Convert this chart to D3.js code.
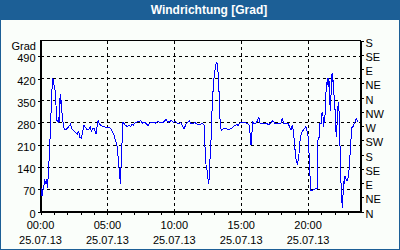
<!DOCTYPE html>
<html>
<head>
<meta charset="utf-8">
<script src="https://cdn.jsdelivr.net/npm/d3@7"></script>
<style>
  body { margin: 0; background: #fff; }
  svg { display: block; }
  text { font-family: 'Liberation Sans', Arial, sans-serif; font-size: 11px; fill: #000; }
  .title { font-weight: bold; font-size: 12px; fill: #fff; }
  .grid line { stroke: #000; stroke-dasharray: 3,3; shape-rendering: crispEdges; }
  .axis path, .axis line { stroke: #000; shape-rendering: crispEdges; }
</style>
</head>
<body>
<svg id="chart"></svg>
<script>
// Chart data
var chartTitle = 'Windrichtung [Grad]';
var yUnit = 'Grad';
var dateLabel = '25.07.13';

var times = [
    '00:02', '00:07', '00:16', '00:19', '00:25', '00:28', '00:31', '00:37', '00:40', '00:43',
    '00:46', '00:49', '00:52', '00:56', '00:59', '01:04', '01:07', '01:10', '01:14', '01:19',
    '01:22', '01:25', '01:28', '01:31', '01:34', '01:38', '01:41', '01:46', '01:52', '01:58',
    '02:04', '02:14', '02:19', '02:26', '02:37', '02:45', '02:51', '02:57', '03:03', '03:06',
    '03:15', '03:21', '03:30', '03:36', '03:43', '03:48', '03:54', '04:00', '04:09', '04:18',
    '04:24', '04:30', '04:39', '04:48', '04:57', '05:06', '05:12', '05:18', '05:24', '05:30',
    '05:36', '05:42', '05:46', '05:51', '05:54', '05:58', '06:01', '06:04', '06:07', '06:10',
    '06:15', '06:21', '06:29', '06:38', '06:44', '06:50', '06:56', '07:02', '07:11', '07:29',
    '07:38', '07:47', '08:02', '08:11', '08:23', '08:35', '08:47', '09:05', '09:23', '09:32',
    '09:47', '09:56', '10:05', '10:14', '10:23', '10:29', '10:35', '10:44', '10:53', '11:08',
    '11:14', '11:23', '11:32', '11:38', '11:47', '12:05', '12:08', '12:14', '12:17', '12:23',
    '12:27', '12:32', '12:35', '12:38', '12:44', '12:47', '12:51', '12:56', '13:00', '13:05',
    '13:09', '13:14', '13:18', '13:21', '13:24', '13:29', '13:33', '13:40', '13:48', '13:55',
    '14:03', '14:11', '14:18', '14:25', '14:33', '14:40', '14:46', '14:52', '15:03', '15:13',
    '15:25', '15:37', '15:44', '15:52', '15:59', '16:07', '16:13', '16:19', '16:25', '16:34',
    '16:43', '16:52', '17:01', '17:10', '17:22', '17:31', '17:40', '17:49', '17:58', '18:04',
    '18:10', '18:19', '18:31', '18:37', '18:43', '18:49', '18:55', '18:59', '19:04', '19:08',
    '19:13', '19:19', '19:25', '19:31', '19:37', '19:43', '19:50', '19:59', '20:04', '20:07',
    '20:13', '20:19', '20:25', '20:34', '20:40', '20:43', '20:49', '20:52', '20:58', '21:00',
    '21:06', '21:09', '21:12', '21:18', '21:21', '21:27', '21:30', '21:33', '21:36', '21:39',
    '21:42', '21:45', '21:48', '21:51', '21:54', '21:57', '22:00', '22:03', '22:06', '22:09',
    '22:12', '22:15', '22:18', '22:21', '22:27', '22:30', '22:33', '22:36', '22:39', '22:42',
    '22:45', '22:48', '22:51', '22:54', '23:00', '23:06', '23:09', '23:12', '23:15', '23:21',
    '23:27', '23:33', '23:36', '23:42'
];

var values = [
    75, 49, 86, 97, 86, 102, 75, 139, 192, 234,
    287, 346, 393, 420, 404, 393, 367, 330, 287, 282,
    298, 282, 372, 340, 351, 287, 282, 261, 258, 261,
    266, 275, 264, 256, 250, 245, 253, 234, 232, 240,
    272, 266, 258, 258, 266, 253, 261, 264, 245, 287,
    277, 272, 268, 268, 264, 266, 264, 258, 250, 240,
    224, 213, 192, 139, 134, 86, 139, 181, 245, 282,
    277, 272, 268, 272, 268, 276, 272, 279, 282, 287,
    279, 282, 272, 279, 282, 279, 284, 279, 290, 282,
    287, 282, 284, 279, 277, 282, 272, 261, 277, 287,
    277, 277, 282, 277, 275, 277, 277, 272, 213, 139,
    129, 97, 86, 139, 213, 277, 351, 404, 436, 457,
    473, 462, 420, 372, 298, 261, 256, 261, 264, 261,
    258, 261, 264, 268, 272, 275, 272, 279, 281, 282,
    279, 272, 210, 282, 277, 279, 287, 298, 279, 279,
    277, 279, 275, 277, 287, 279, 277, 279, 277, 293,
    279, 277, 277, 268, 258, 272, 250, 213, 176, 155,
    150, 181, 234, 250, 256, 261, 268, 245, 187, 128,
    65, 65, 70, 72, 73, 224, 234, 279, 277, 309,
    314, 266, 282, 319, 393, 420, 393, 420, 388, 319,
    351, 417, 438, 409, 414, 351, 330, 298, 234, 266,
    298, 346, 330, 266, 97, 65, 12, 43, 97, 86,
    112, 105, 102, 97, 107, 150, 192, 224, 264, 268,
    277, 287, 293, 284
];

var yTicks = [0, 70, 140, 210, 280, 350, 420, 490];
var dirTicks = [0, 45, 90, 135, 180, 225, 270, 315, 360, 405, 450, 495, 540];
var dirLabels = ['N', 'NE', 'E', 'SE', 'S', 'SW', 'W', 'NW', 'N', 'NE', 'E', 'SE', 'S'];
var labelHours = ['00:00', '05:00', '10:00', '15:00', '20:00'];
var gridHours = ['05:00', '10:00', '15:00', '20:00'];

// Set up the svg area
var svgWidth = 400;
var svgHeight = 250;

var margin = {
    top: 40.5,
    right: 39.5,
    bottom: 38.5,
    left: 40.5
};

var chartWidth = svgWidth - margin.left - margin.right;
var chartHeight = svgHeight - margin.top - margin.bottom;

var svg = d3.select('#chart')
    .attr('width', svgWidth)
    .attr('height', svgHeight);

// Background, border and title bar
svg.append('rect')
    .attr('x', 0.5)
    .attr('y', 0.5)
    .attr('width', svgWidth - 1)
    .attr('height', svgHeight - 1)
    .attr('fill', '#fafefa')
    .attr('stroke', '#1c5f96')
    .attr('shape-rendering', 'crispEdges');

svg.append('rect')
    .attr('x', 0)
    .attr('y', 0)
    .attr('width', svgWidth)
    .attr('height', 20)
    .attr('fill', '#1c5f96');

svg.append('text')
    .attr('x', 209)
    .attr('y', 14)
    .attr('text-anchor', 'middle')
    .classed('title', true)
    .text(chartTitle);

var chartGroup = svg.append('g')
    .attr('transform', `translate(${margin.left}, ${margin.top})`);

// Scales
var parseTime = d3.timeParse('%H:%M');

var data = times.map((t, i) => ({ time: parseTime(t), value: values[i] }));

var xScale = d3.scaleTime()
    .domain([parseTime('00:00'), parseTime('23:55')])
    .range([0, chartWidth]);

var yScale = d3.scaleLinear()
    .domain([0, 540])
    .range([chartHeight, 0]);

// Dashed grid
chartGroup.append('g')
    .classed('grid', true)
    .selectAll('line')
    .data(yTicks.filter((d) => d > 0))
    .enter()
    .append('line')
    .attr('x1', 0)
    .attr('x2', chartWidth)
    .attr('y1', (d) => yScale(d))
    .attr('y2', (d) => yScale(d));

chartGroup.append('g')
    .classed('grid', true)
    .selectAll('line')
    .data(gridHours)
    .enter()
    .append('line')
    .attr('x1', (d) => xScale(parseTime(d)))
    .attr('x2', (d) => xScale(parseTime(d)))
    .attr('y1', 0)
    .attr('y2', chartHeight);

// Plot frame
chartGroup.append('rect')
    .attr('width', chartWidth)
    .attr('height', chartHeight)
    .attr('fill', 'none')
    .attr('stroke', '#000')
    .attr('shape-rendering', 'crispEdges');

// Axes
var leftAxis = d3.axisLeft(yScale)
    .tickValues(yTicks)
    .tickSize(3)
    .tickSizeOuter(0)
    .tickPadding(2);

var rightAxis = d3.axisRight(yScale)
    .tickValues(dirTicks)
    .tickFormat((d, i) => dirLabels[i])
    .tickSize(3)
    .tickSizeOuter(0)
    .tickPadding(2);

var bottomAxis = d3.axisBottom(xScale)
    .ticks(d3.timeHour.every(1))
    .tickFormat('')
    .tickSize(3)
    .tickSizeOuter(0);

chartGroup.append('g')
    .classed('axis', true)
    .call(leftAxis)
    .selectAll('text')
    .attr('dy', '0.5em');

chartGroup.append('g')
    .classed('axis', true)
    .attr('transform', `translate(${chartWidth}, 0)`)
    .call(rightAxis)
    .selectAll('text')
    .attr('dy', '0.5em');

chartGroup.append('g')
    .classed('axis', true)
    .attr('transform', `translate(0, ${chartHeight})`)
    .call(bottomAxis);

// Time and date labels
var timeLabels = chartGroup.append('g')
    .selectAll('text')
    .data(labelHours)
    .enter()
    .append('text')
    .attr('text-anchor', 'middle')
    .attr('x', (d) => xScale(parseTime(d)));

timeLabels.append('tspan')
    .attr('x', (d) => xScale(parseTime(d)))
    .attr('y', chartHeight + 17.5)
    .text((d) => d);

timeLabels.append('tspan')
    .attr('x', (d) => xScale(parseTime(d)))
    .attr('y', chartHeight + 32.5)
    .text(dateLabel);

// Unit label
chartGroup.append('text')
    .attr('x', -4.5)
    .attr('y', 9.5)
    .attr('text-anchor', 'end')
    .text(yUnit);

// Line (aliased, like the original pixel drawing)
var line = d3.line()
    .x((d) => xScale(d.time))
    .y((d) => yScale(d.value));

chartGroup.append('path')
    .datum(data)
    .attr('d', line)
    .attr('fill', 'none')
    .attr('stroke', '#0000ff')
    .attr('stroke-width', 1)
    .attr('shape-rendering', 'crispEdges');
</script>
</body>
</html>
